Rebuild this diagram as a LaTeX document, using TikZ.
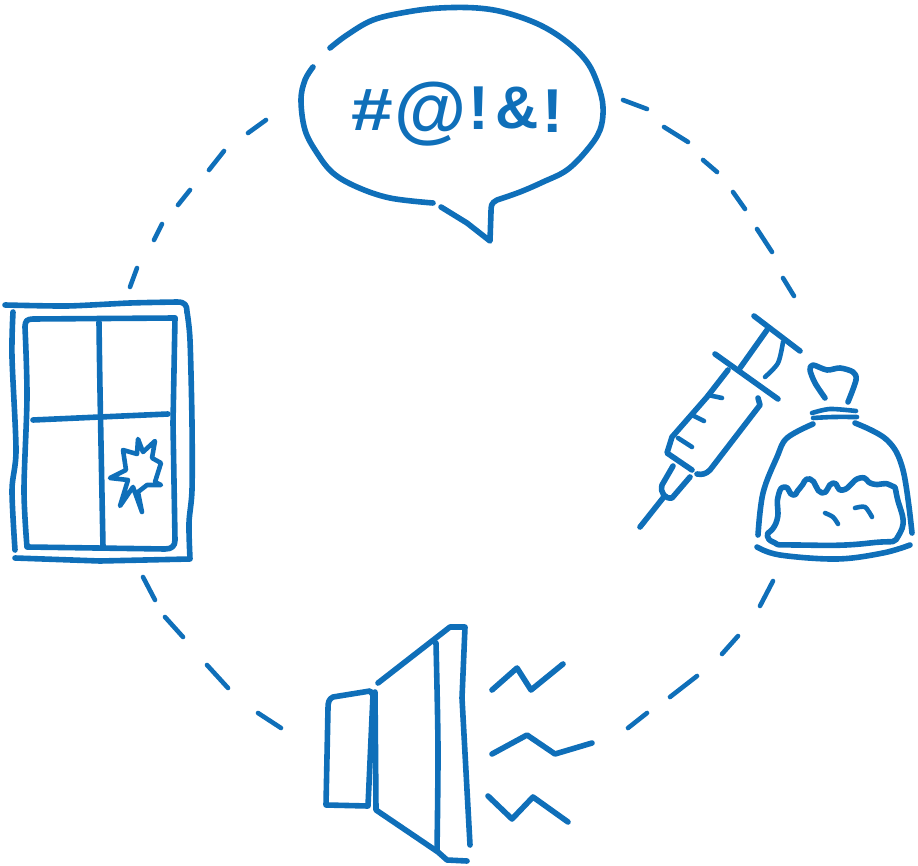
\documentclass[tikz,border=0pt]{standalone}
\usepackage{graphicx}
\usepackage{fontspec}
\setmainfont{Liberation Sans}
\usepackage{xcolor}
\definecolor{inkblue}{HTML}{0F6FB9}

\begin{document}
\begin{tikzpicture}[
    x=1pt, y=-1pt,
    ink/.style={draw=inkblue, line width=5.6pt, line cap=round, line join=round},
    fineink/.style={ink, line width=4.6pt},
    dashmark/.style={ink, line width=4.6pt},
    swear/.style={text=inkblue, inner sep=0pt, font=\bfseries\fontsize{#1}{#1}\selectfont}
]
\useasboundingbox (0,0) rectangle (918,866);

% dashes of the ring
\foreach \xa/\ya/\xb/\yb in {130/287/137/268, 154/240/162/224, 178/205/190/190, 209/170/224/151, 248/133/266/120,
    623/100/647/109, 664/127/688/142, 703/160/717/172, 733/192/745/209, 757/229/772/252, 783/278/794/296,
    773/581/760/606, 738/636/722/654, 697/676/670/697, 647/713/628/728,
    143/577/155/600, 165/617/183/637, 207/665/228/688, 258/713/281/728}
    \draw[dashmark] (\xa,\ya) -- (\xb,\yb);

% speech bubble
\draw[ink] plot[smooth, tension=0.6] coordinates {(330,48) (347,35) (373,20) (407,12) (440,8) (477,8) (507,13) (540,25) (567,42) (587,62) (598,85) (603,107) (600,130) (587,150) (567,170) (543,182) (520,192) (497,200)}
    .. controls (491,203) and (491,206) .. (491,212) -- (490,241) -- (467,223) -- (441,207);
\draw[ink] plot[smooth, tension=0.6] coordinates {(313,67) (305,80) (301,100) (305,130) (317,153) (333,173) (357,187) (390,198) (433,203)};
\node[swear=60] (hash) at (372,110) {\scalebox{1.25}[1]{\#}};
\node[swear=74] (at) at (431,114) {@};
\node[swear=62] (bangone) at (479,108) {!};
\node[swear=60] (amp) at (517,108) {\&};
\node[swear=62] (bangtwo) at (553,111) {!};

% window
\draw[ink] plot[smooth, tension=0.4] coordinates {(5,305) (67,306) (130,303) (177,302)}
    .. controls (185,302) and (187,305) .. (187,312);
\draw[ink] plot[smooth, tension=0.5] coordinates {(187,312) (190,340) (192,423) (192,490) (189,523) (190,559)} -- (100,561) -- (15,558);
\draw[ink] plot[smooth, tension=0.5] coordinates {(13,312) (12,357) (16,450) (12,490) (15,550)};
\draw[ink] (175,318) -- (33,319) .. controls (27,319) and (25,321) .. (25,327);
\draw[ink] plot[smooth, tension=0.5] coordinates {(25,327) (27,397) (24,490) (27,547)} -- (165,549)
    .. controls (172,549) and (175,546) .. (175,540) -- (173,423) -- (175,318);
\draw[ink] plot[smooth, tension=0.5] coordinates {(99,322) (100,390) (103,547)};
\draw[ink] plot[smooth, tension=0.5] coordinates {(33,420) (100,417) (168,414)};
\draw[fineink] (110,478) -- (126,470) -- (123,450) -- (137,454) -- (138,439) -- (143,452) -- (155,441) -- (152,458) -- (161,463) -- (155,482) -- (161,485) -- (147,485) -- (138,492) -- (142,512) -- (133,487) -- (120,506) -- (128,480) -- cycle;

% syringe
\draw[ink] (754,316) -- (800,351);
\draw[ink] (767,330) -- (740,368);
\draw[fineink] plot[smooth] coordinates {(783,342) (778,363) (765,377)};
\draw[ink] (715,354) -- (778,399);
\draw[ink] (728,370) -- (707,397) -- (672,437) -- (667,453) -- (692,470);
\draw[ink] (758,398) -- (760,405) -- (710,470) .. controls (706,474) and (702,475) .. (697,474);
\draw[fineink] (708,395) -- (722,398);
\draw[fineink] (692,415) -- (704,421);
\draw[fineink] (678,438) -- (692,447);
\draw[ink] (673,466) -- (662,485) .. controls (660,493) and (665,499) .. (672,498) -- (690,477);
\draw[ink] (663,498) -- (640,527);

% bag
\draw[ink] plot[smooth, tension=0.5] coordinates {(825,398) (815,383) (810,370) (813,365) (827,370) (840,368) (853,372) (856,380) (848,402)};
\draw[fineink] plot[smooth] coordinates {(812,413) (830,409) (856,411)};
\draw[fineink] plot[smooth] coordinates {(813,418) (833,417) (857,417)};
\draw[ink] plot[smooth, tension=0.6] coordinates {(813,424) (787,438) (777,457) (763,493) (758,535)};
\draw[ink] plot[smooth, tension=0.6] coordinates {(855,423) (887,440) (903,470) (912,533)};
\draw[ink] plot[smooth, tension=0.6] coordinates {(757,547) (780,555) (837,559) (883,553) (910,545)};
\draw[ink] plot[smooth, tension=1] coordinates {(768,533) (777,520) (778,497) (785,487) (793,495) (800,488) (810,479) (822,493) (833,483) (843,490) (860,478) (873,484) (890,485) (897,497) (900,533) (870,543) (797,545) (773,542) (768,533)};
\draw[fineink] plot[smooth] coordinates {(825,513) (833,517) (838,524)};
\draw[fineink] plot[smooth] coordinates {(855,508) (865,507) (872,517)};

% speaker
\draw[ink] (370,691) -- (333,697) .. controls (329,699) and (328,702) .. (328,708) -- (326,805) -- (368,806) -- (373,695) -- cycle;
\draw[ink] (375,692) -- (376,810) -- (438,852) -- (447,860) -- (467,861);
\draw[ink] (378,683) -- (450,627) -- (465,627) -- (462,698) -- (470,845);
\draw[ink] plot[smooth] coordinates {(436,643) (438,748) (437,850)};
\draw[ink] (492,690) -- (517,668) -- (531,690) -- (563,664);
\draw[ink] (492,754) -- (527,735) -- (555,754) -- (592,743);
\draw[ink] (488,796) -- (512,819) -- (533,797) -- (568,822);
\end{tikzpicture}
\end{document}
